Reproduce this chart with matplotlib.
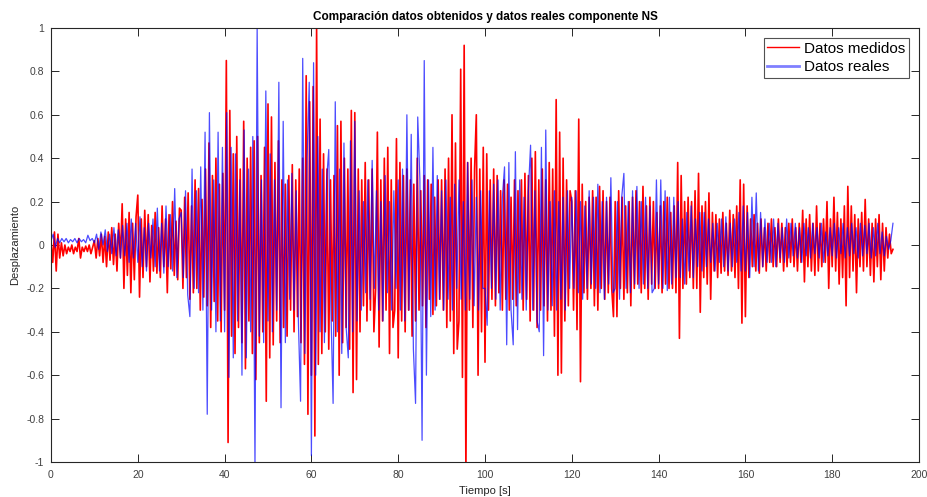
import numpy as np
import matplotlib.pyplot as plt

# Datos (un valor cada 0.4 s para medidos, cada 0.5 s para reales)
dt_medidos = 0.4
dt_reales = 0.5

medidos = [
    0.02, -0.08, 0.06, -0.12, 0.05, -0.06, 0.01, -0.05, 0.0, -0.04, -0.01, -0.03, 0.0, -0.04, -0.01, -0.03, 0.03, -0.06, -0.01, -0.03, -0.005, -0.03, 0.0, -0.04, -0.01,
    0.02, -0.06, 0.03, -0.05, 0.05, -0.08, 0.04, -0.1, 0.06, -0.07, 0.08, -0.09, 0.05, -0.12, 0.1, -0.06, 0.19, -0.2, 0.12, -0.14, 0.15, -0.22, 0.1, -0.16, 0.13,
    0.23, -0.24, 0.12, -0.15, 0.16, -0.1, 0.14, -0.17, 0.09, -0.12, 0.15, -0.13, 0.08, -0.15, 0.18, -0.1, 0.12, -0.22, 0.14, -0.11, 0.2, -0.14, 0.11, -0.16, 0.17,
    0.16, -0.2, 0.22, -0.15, 0.24, -0.25, 0.18, -0.22, 0.3, -0.2, 0.26, -0.3, 0.21, -0.24, 0.35, -0.28, 0.47, -0.38, 0.32, -0.26, 0.4, -0.35, 0.28, -0.4, 0.33,
    -0.3, 0.85, -0.91, 0.62, -0.42, 0.42, -0.5, 0.5, -0.38, 0.35, -0.45, 0.57, -0.57, 0.4, -0.35, 0.45, -0.5, 0.48, -0.62, 0.5, -0.45, 0.32, -0.4, 0.45, -0.72,
    0.65, -0.52, 0.59, -0.46, 0.38, -0.35, 0.48, -0.45, 0.3, -0.38, 0.28, -0.42, 0.32, -0.3, 0.37, -0.4, 0.3, -0.33, 0.35, -0.45, 0.4, -0.55, 0.78, -0.78, 0.66,
    -0.6, 0.73, -0.88, 1.0, -0.55, 0.58, -0.5, 0.42, -0.4, 0.35, -0.48, 0.3, -0.35, 0.32, -0.42, 0.55, -0.6, 0.57, -0.45, 0.4, -0.38, 0.35, -0.48, 0.62, -0.68,
    0.61, -0.62, 0.35, -0.4, 0.3, -0.28, 0.38, -0.35, 0.3, -0.3, 0.35, -0.4, -0.2, 0.52, -0.47, 0.3, -0.35, 0.4, -0.3, 0.45, -0.5, 0.3, -0.38, -0.3, 0.49,
    -0.52, 0.38, -0.35, 0.32, -0.4, 0.35, -0.3, 0.3, -0.42, 0.28, -0.35, 0.4, -0.3, 0.25, -0.28, 0.32, -0.38, 0.3, -0.25, 0.28, -0.32, 0.22, -0.28, 0.3, -0.25,
    0.3, -0.3, 0.35, -0.38, 0.4, -0.35, 0.6, -0.5, 0.47, -0.48, -0.35, 0.81, -0.61, 0.92, -1.05, 0.38, -0.3, 0.4, -0.38, 0.35, 0.6, -0.6, 0.35, -0.4, 0.45,
    -0.54, 0.42, -0.3, 0.3, -0.25, 0.35, -0.28, 0.32, -0.22, 0.25, -0.3, 0.3, -0.25, 0.28, -0.3, 0.22, -0.25, 0.3, -0.28, 0.25, -0.22, 0.3, -0.3, 0.33, -0.25,
    0.32, -0.35, 0.4, -0.3, 0.43, -0.38, 0.3, -0.3, 0.35, -0.28, 0.3, -0.35, 0.38, -0.3, 0.35, -0.42, 0.67, -0.6, 0.52, -0.59, 0.4, -0.35, 0.3, -0.28, 0.25,
    0.2, -0.3, 0.25, -0.39, 0.58, -0.63, 0.28, -0.22, 0.2, -0.25, 0.22, -0.2, 0.25, -0.28, 0.22, -0.3, 0.27, -0.2, 0.25, -0.25, 0.2, -0.22, 0.22, -0.2, -0.33,
    0.2, -0.33, 0.25, -0.2, 0.22, -0.25, 0.18, -0.22, 0.2, -0.28, 0.22, -0.2, 0.25, -0.18, 0.2, -0.22, 0.27, -0.2, 0.18, -0.25, 0.22, -0.18, 0.2, -0.2, 0.15,
    -0.2, 0.18, -0.22, 0.2, -0.18, 0.22, -0.2, 0.15, -0.2, 0.18, -0.22, 0.38, -0.43, 0.32, -0.2, 0.2, -0.18, 0.22, -0.15, 0.2, -0.2, 0.25, -0.2, 0.33, -0.31,
    0.18, -0.15, 0.2, -0.18, 0.24, -0.25, 0.15, -0.12, 0.14, -0.15, 0.12, -0.13, 0.15, -0.12, 0.1, -0.14, 0.16, -0.12, 0.14, -0.15, 0.18, -0.2, 0.3, -0.36, 0.28,
    -0.33, 0.18, -0.15, 0.12, -0.1, 0.14, -0.12, 0.1, -0.13, 0.12, -0.1, 0.08, -0.12, 0.1, -0.08, 0.12, -0.1, 0.08, -0.1, 0.12, -0.08, 0.1, -0.12, 0.08, -0.1,
    0.1, -0.08, 0.12, -0.1, 0.08, -0.12, 0.1, -0.08, 0.16, -0.17, 0.12, -0.1, 0.14, -0.12, 0.1, -0.14, 0.18, -0.12, 0.1, -0.1, 0.12, -0.08, 0.2, -0.2, 0.12,
    -0.1, 0.22, -0.12, 0.15, -0.18, 0.12, -0.15, 0.18, -0.28, 0.27, -0.15, 0.18, -0.12, 0.14, -0.22, 0.12, -0.1, 0.15, -0.12, 0.21, -0.1, 0.12, -0.14, 0.1, -0.17,
    0.12, -0.1, 0.14, -0.16, 0.1, -0.12, 0.08, -0.06, 0.05, -0.04, -0.02,
]

reales = [
    0.02, 0.05, -0.01, 0.03, 0.01, 0.03, 0.015, 0.03, 0.01, 0.025, 0.015, 0.03, 0.01, 0.03, 0.015, 0.025, 0.01, 0.045, 0.02, 0.03,
    0.01, 0.05, -0.02, 0.06, 0.0, 0.07, -0.03, 0.05, -0.04, 0.08, -0.05, 0.07, -0.06, 0.09, -0.05, 0.1, -0.08, 0.12, -0.06, 0.1,
    -0.08, 0.13, -0.1, 0.08, -0.12, 0.1, -0.06, 0.12, -0.1, 0.17, -0.12, 0.1, -0.13, 0.18, -0.1, 0.14, -0.12, 0.26, -0.15, 0.12,
    0.15, -0.15, 0.25, -0.23, -0.33, 0.35, -0.2, 0.25, -0.22, 0.36, -0.3, 0.52, -0.78, 0.61, -0.3, 0.3, -0.4, 0.52, -0.35, 0.45,
    -0.4, 0.61, -0.61, 0.45, -0.52, 0.42, -0.35, 0.3, -0.6, 0.53, -0.52, 0.35, -0.4, 0.5, -1.02, 1.0, -0.42, 0.3, -0.45, 0.71,
    -0.35, 0.42, -0.4, 0.3, -0.3, 0.75, -0.75, 0.57, -0.45, 0.3, -0.25, 0.33, -0.3, 0.25, -0.35, -0.72, 0.86, -0.5, 0.4, 0.75,
    -0.97, 0.84, -0.6, 0.5, -0.4, 0.35, -0.45, 0.3, 0.44, -0.3, -0.73, 0.66, -0.4, 0.35, -0.5, 0.47, -0.38, -0.52, 0.48, -0.4,
    0.57, -0.35, 0.25, -0.3, 0.2, -0.22, 0.3, -0.25, 0.39, -0.2, 0.25, -0.3, 0.2, -0.35, 0.32, -0.22, 0.2, -0.3, 0.25, -0.2,
    0.3, -0.3, 0.35, -0.35, 0.6, -0.3, 0.51, -0.48, -0.73, 0.59, 0.3, -0.9, 0.85, -0.6, 0.3, -0.33, 0.45, -0.3, 0.32, -0.25,
    0.25, -0.3, 0.3, -0.25, 0.22, -0.3, 0.28, -0.2, 0.3, -0.25, 0.2, -0.3, 0.38, -0.25, 0.3, -0.28, 0.22, -0.3, 0.25, -0.2,
    -0.2, -0.37, 0.25, -0.2, 0.28, -0.25, 0.3, -0.3, 0.22, 0.36, -0.46, 0.38, -0.3, -0.46, 0.43, -0.39, 0.3, -0.25, 0.22, -0.3,
    0.25, 0.46, -0.3, 0.25, -0.35, -0.4, 0.45, -0.51, 0.53, -0.3, 0.2, -0.28, 0.25, -0.3, 0.2, -0.25, 0.22, -0.3, 0.25, -0.2,
    0.22, -0.2, 0.25, -0.22, 0.2, -0.25, 0.18, -0.2, 0.25, -0.18, 0.22, -0.2, 0.28, -0.22, 0.2, -0.25, 0.22, -0.18, 0.31, -0.22,
    -0.2, 0.2, -0.25, 0.22, 0.33, -0.2, 0.2, -0.22, 0.25, -0.18, 0.27, -0.2, 0.2, -0.18, 0.22, -0.2, 0.18, -0.22, -0.2, 0.3,
    -0.18, 0.3, -0.2, 0.25, -0.21, 0.22, -0.18, 0.22, -0.15, 0.2, -0.15, 0.12, -0.18, 0.15, -0.12, 0.18, -0.15, 0.12, -0.1, 0.15,
    -0.12, 0.15, -0.1, 0.12, -0.08, 0.1, -0.12, 0.1, -0.08, 0.12, -0.1, 0.13, -0.12, 0.1, -0.1, 0.12, -0.08, 0.15, -0.12, 0.18,
    -0.12, 0.15, -0.15, 0.22, -0.1, 0.24, -0.12, 0.15, -0.1, 0.12, -0.08, 0.1, -0.08, 0.12, -0.1, 0.1, -0.06, 0.08, -0.08, 0.12,
    -0.06, 0.1, -0.05, 0.1, -0.06, 0.08, -0.08, 0.1, -0.05, 0.08, -0.06, 0.1, -0.04, 0.08, -0.06, 0.1, -0.08, 0.06, -0.05, 0.08,
    -0.05, 0.1, -0.06, 0.08, -0.04, 0.1, -0.06, 0.08, -0.05, 0.1, -0.04, 0.08, -0.06, 0.1, -0.05, 0.09, -0.04, 0.1, -0.06, 0.08,
    -0.05, 0.1, -0.04, 0.06, -0.05, 0.04, -0.02, 0.02, 0.1,
]

x_ticks = [0, 20, 40, 60, 80, 100, 120, 140, 160, 180, 200]
y_ticks = [-1, -0.8, -0.6, -0.4, -0.2, 0, 0.2, 0.4, 0.6, 0.8, 1]

t_medidos = np.arange(len(medidos)) * dt_medidos
t_reales = np.arange(len(reales)) * dt_reales

plt.rcParams['font.family'] = ['Liberation Sans', 'DejaVu Sans']
plt.rcParams['axes.unicode_minus'] = False

gris = '#262626'
fig = plt.figure(figsize=(9.27, 4.97), dpi=100)
ax = fig.add_axes([51 / 927, 35 / 497, 868 / 927, 434 / 497])

ax.plot(t_medidos, medidos, color='red', lw=1.2, label='Datos medidos')
ax.plot(t_reales, reales, color='blue', lw=0.9, alpha=0.7, label='Datos reales')

ax.set_xlim(0, 200)
ax.set_ylim(-1, 1)
ax.set_xticks(x_ticks)
ax.set_yticks(y_ticks)
ax.set_yticklabels([f'{v:g}' for v in y_ticks])
ax.tick_params(direction='in', length=5.5, width=0.7, top=True, right=True,
               labelsize=7.5, colors=gris, labelcolor='#404040')
ax.tick_params(axis='x', pad=6)
ax.tick_params(axis='y', pad=5)
for s in ax.spines.values():
    s.set_color(gris)
    s.set_linewidth(0.8)

ax.set_title('Comparación datos obtenidos y datos reales componente NS',
             fontsize=8.5, fontweight='bold', color='black', pad=6)
ax.set_xlabel('Tiempo [s]', fontsize=8, color=gris, labelpad=4)
ax.set_ylabel('Desplazamiento', fontsize=8, color=gris, labelpad=4)

leg = ax.legend(loc='upper right', fontsize=11, frameon=True, fancybox=False,
                handlelength=2.1, borderaxespad=0.65, borderpad=0.25,
                labelspacing=0.3, handletextpad=0.3)
leg.get_frame().set_edgecolor(gris)
leg.get_frame().set_linewidth(0.8)
leg.legend_handles[0].set_linewidth(1.0)
leg.legend_handles[1].set_linewidth(2.0)
leg.legend_handles[1].set_alpha(0.5)

fig.savefig('out.png', dpi=100)
